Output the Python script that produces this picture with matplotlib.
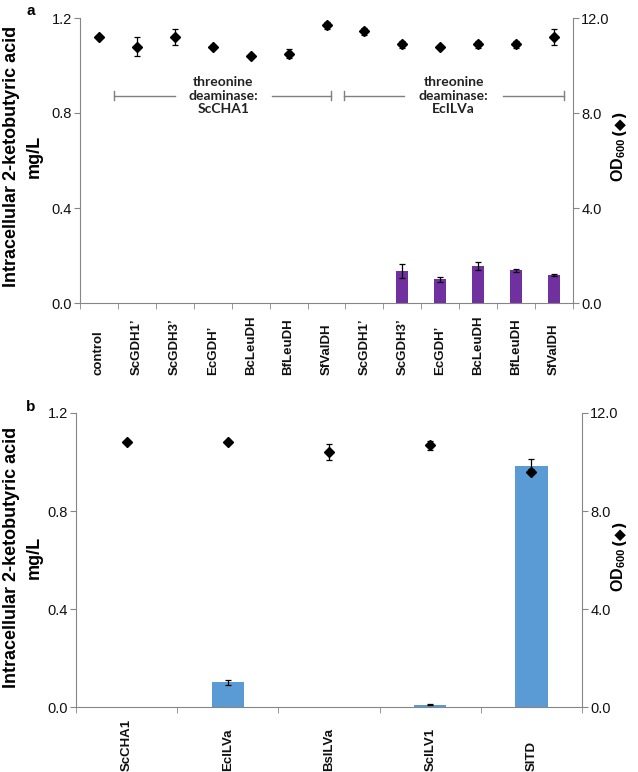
import numpy as np
import matplotlib
matplotlib.use("Agg")
import matplotlib.pyplot as plt

plt.rcParams['font.family'] = ['Liberation Sans', 'DejaVu Sans']
plt.rcParams['mathtext.fontset'] = 'custom'
plt.rcParams['mathtext.rm'] = 'Liberation Sans'
plt.rcParams['mathtext.bf'] = 'Liberation Sans:bold'

# panel a data
cats_a = ['control', 'ScGDH1\u2019', 'ScGDH3\u2019', 'EcGDH\u2019', 'BcLeuDH', 'BfLeuDH', 'SfValDH',
          'ScGDH1\u2019', 'ScGDH3\u2019', 'EcGDH\u2019', 'BcLeuDH', 'BfLeuDH', 'SfValDH']
acid_a = [0, 0, 0, 0, 0, 0, 0, 0, 0.135, 0.100, 0.154, 0.138, 0.119]
acid_err_a = [0, 0, 0, 0, 0, 0, 0, 0, 0.029, 0.011, 0.017, 0.007, 0.005]
od_a = [11.2, 10.8, 11.2, 10.8, 10.4, 10.5, 11.7, 11.45, 10.9, 10.8, 10.9, 10.9, 11.2]
od_err_a = [0.05, 0.38, 0.35, 0.05, 0.05, 0.2, 0.15, 0.15, 0.15, 0.05, 0.15, 0.15, 0.32]

# panel b data
cats_b = ['ScCHA1', 'EcILVa', 'BsILVa', 'ScILV1', 'SlTD']
acid_b = [0, 0.102, 0, 0.011, 0.985]
acid_err_b = [0, 0.010, 0, 0.003, 0.027]
od_b = [10.8, 10.8, 10.4, 10.68, 9.6]
od_err_b = [0.03, 0.03, 0.33, 0.17, 0.1]

W, H = 638, 772
fig = plt.figure(figsize=(W / 100, H / 100), dpi=100)

spine_c = '#868686'
tick_c = '#111111'


def px(x0, y0, x1, y1):
    return [x0 / W, 1 - y1 / H, (x1 - x0) / W, (y1 - y0) / H]


def panel(rect, cats, acid, acid_err, od, od_err, color, label_pad):
    ax = fig.add_axes(rect)
    n = len(cats)
    x = np.arange(n)
    ax.bar(x, acid, width=0.32, color=color, zorder=2)
    for xi, v, e in zip(x, acid, acid_err):
        if v > 0:
            ax.errorbar(xi, v, yerr=e, color='black', lw=0.9, capsize=2, capthick=0.9, zorder=3)
    ax.set_xlim(-0.5, n - 0.5)
    ax.set_ylim(0, 1.2)
    ax.set_yticks([0, 0.4, 0.8, 1.2])
    ax.set_yticklabels(['%.1f' % v for v in [0, 0.4, 0.8, 1.2]])
    ax.set_xticks(x)
    ax.set_xticklabels(cats)
    ax.set_xticks(np.arange(n + 1) - 0.5, minor=True)
    ax.tick_params(axis='x', which='major', length=0, pad=label_pad, colors=tick_c)
    ax.tick_params(axis='x', which='minor', length=4, color=spine_c, direction='out')
    ax.tick_params(axis='y', length=4, color=spine_c, labelsize=10.5, labelcolor=tick_c, pad=2)
    ax.spines['top'].set_visible(False)
    ax.spines['right'].set_visible(False)
    for s in ['left', 'bottom']:
        ax.spines[s].set_color(spine_c)
    ax2 = ax.twinx()
    ax2.errorbar(x, od, yerr=od_err, fmt='D', color='black', ms=5.5, lw=0.9,
                 capsize=2, capthick=0.9, zorder=4)
    ax2.set_ylim(0, 12)
    ax2.set_yticks([0, 4, 8, 12])
    ax2.set_yticklabels(['%.1f' % v for v in [0, 4, 8, 12]])
    ax2.tick_params(axis='y', length=4, color=spine_c, labelsize=10.5, labelcolor=tick_c, pad=2)
    for s in ['top', 'left', 'bottom']:
        ax2.spines[s].set_visible(False)
    ax2.spines['right'].set_color(spine_c)
    plt.setp(ax.get_xticklabels(), rotation=90, va='bottom', ha='center',
             fontweight='bold', fontsize=9.5)
    return ax, ax2


ax_a, ax_a2 = panel(px(80, 18, 573, 303), cats_a, acid_a, acid_err_a, od_a, od_err_a,
                    '#7030A0', 52)
ax_b, ax_b2 = panel(px(76, 413, 582, 707.3), cats_b, acid_b, acid_err_b, od_b, od_err_b,
                    '#5B9BD5', 46)

# brackets in panel a
by = 0.873
for x0, g0, g1, x1, name in [(0.39, 2.0, 4.55, 6.13, 'ScCHA1'),
                             (6.47, 8.05, 10.66, 12.26, 'EcILVa')]:
    ax_a.plot([x0, g0], [by, by], color='#7f7f7f', lw=1)
    ax_a.plot([g1, x1], [by, by], color='#7f7f7f', lw=1)
    ax_a.plot([x0, x0], [by - 0.02, by + 0.02], color='#7f7f7f', lw=1)
    ax_a.plot([x1, x1], [by - 0.02, by + 0.02], color='#7f7f7f', lw=1)
    ax_a.text((g0 + g1) / 2, by, 'threonine\ndeaminase:\n' + name, ha='center', va='center',
              family='Lato', fontweight='bold', fontsize=10, linespacing=1.15, color='#222222')

# axis titles
ylab = 'Intracellular 2-ketobutyric acid\nmg/L'
for yc in [156, 557]:
    fig.text(23 / W, 1 - yc / H, ylab, rotation=90, ha='center', va='center',
             fontweight='bold', fontsize=13, linespacing=1.5, multialignment='center')

# right title: "OD600" then "(◆)" continuing upward
for y_start in [182, 592]:
    t = fig.text(619 / W, 1 - y_start / H, r'$\mathbf{OD_{600}}$', rotation=90,
                 ha='center', va='bottom', fontsize=11.5)
    fig.axes[0].annotate('(\u25c6)', xy=(0.5, 1.0), xycoords=t, xytext=(0, 2),
                         textcoords='offset points', rotation=90, ha='center', va='bottom',
                         fontsize=11, fontweight='bold', family=['DejaVu Sans'],
                         annotation_clip=False)

fig.text(31 / W, 1 - 11 / H, 'a', ha='center', va='center', fontweight='bold', fontsize=11)
fig.text(31 / W, 1 - 407 / H, 'b', ha='center', va='center', fontweight='bold', fontsize=11)

fig.savefig('out.png', dpi=100)
